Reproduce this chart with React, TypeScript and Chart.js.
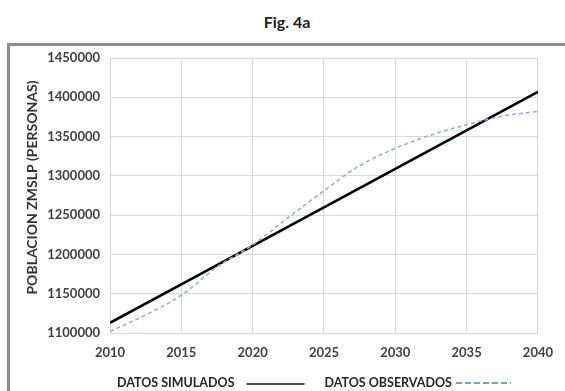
import React, { useEffect, useRef } from "react";
import { Chart, registerables } from "chart.js";

Chart.register(...registerables);

const chartTitle = "Fig. 4a";
const yAxisTitle = "POBLACION ZMSLP (PERSONAS)";
const legendLabels = ["DATOS SIMULADOS", "DATOS OBSERVADOS"];

const simulatedYears = [2010, 2015, 2020, 2025, 2030, 2035, 2040];
const simulatedValues = [1113000, 1162000, 1211000, 1260000, 1309000, 1358000, 1407000];

const observedYears = [2010, 2012.5, 2015, 2017.5, 2020, 2022.5, 2025, 2027.5, 2030, 2032.5, 2035, 2037.5, 2040];
const observedValues = [1102000, 1123000, 1148000, 1184000, 1212000, 1247000, 1281000, 1313000, 1335000, 1352000, 1365000, 1376000, 1382000];

const xMin = 2010;
const xMax = 2040;
const xStep = 5;
const yMin = 1100000;
const yMax = 1450000;
const yStep = 50000;

const FONT = "Lato, 'Open Sans', sans-serif";

const decorPlugin = {
  id: "customDecor",
  afterDraw(chart: any) {
    const { ctx, chartArea } = chart;
    ctx.save();
    // y axis title
    ctx.save();
    ctx.translate(chartArea.left - 78, (chartArea.top + chartArea.bottom) / 2 - 8);
    ctx.rotate(-Math.PI / 2);
    ctx.font = `bold 14px ${FONT}`;
    ctx.fillStyle = "#333333";
    ctx.textAlign = "center";
    ctx.textBaseline = "middle";
    ctx.fillText(yAxisTitle, 0, 0);
    ctx.restore();

    // legend
    ctx.font = `bold 12.5px ${FONT}`;
    ctx.fillStyle = "#262626";
    ctx.textBaseline = "middle";
    const y = chartArea.bottom + 50;
    let x = chartArea.left + 7;
    ctx.fillText(legendLabels[0], x, y);
    x += ctx.measureText(legendLabels[0]).width + 12;
    ctx.strokeStyle = "#111";
    ctx.lineWidth = 1.5;
    ctx.beginPath();
    ctx.moveTo(x, y + 1);
    ctx.lineTo(x + 58, y + 1);
    ctx.stroke();
    x += 58 + 20;
    ctx.fillText(legendLabels[1], x, y);
    x += ctx.measureText(legendLabels[1]).width + 4;
    ctx.strokeStyle = "#6fa3dc";
    ctx.lineWidth = 2;
    ctx.setLineDash([6, 3]);
    ctx.beginPath();
    ctx.moveTo(x, y);
    ctx.lineTo(x + 55, y);
    ctx.stroke();
    ctx.restore();
  },
};

export default function App() {
  const canvasRef = useRef<HTMLCanvasElement | null>(null);

  useEffect(() => {
    if (!canvasRef.current) return;
    const chart = new Chart(canvasRef.current, {
      type: "line",
      data: {
        datasets: [
          {
            label: legendLabels[1],
            data: observedYears.map((x, i) => ({ x, y: observedValues[i] })),
            borderColor: "#8fb3d9",
            borderWidth: 1.6,
            borderDash: [4, 3],
            pointRadius: 0,
            cubicInterpolationMode: "monotone",
            fill: false,
          },
          {
            label: legendLabels[0],
            data: simulatedYears.map((x, i) => ({ x, y: simulatedValues[i] })),
            borderColor: "#000000",
            borderWidth: 2.6,
            pointRadius: 0,
            tension: 0,
            fill: false,
          },
        ],
      },
      options: {
        responsive: false,
        animation: false,
        layout: { padding: { left: 20, top: 58, right: 24, bottom: 28 } },
        plugins: {
          legend: { display: false },
          title: { display: false },
          tooltip: { enabled: false },
        },
        scales: {
          x: {
            type: "linear",
            min: xMin,
            max: xMax,
            afterFit: (s: any) => {
              s.height = 30;
            },
            ticks: {
              stepSize: xStep,
              padding: 12,
              color: "#404040",
              font: { family: FONT, size: 13, weight: "bold" },
              callback: (v: any) => String(v),
            },
            grid: { color: "#d9d9d9", lineWidth: 1, drawTicks: false },
            border: { color: "#d9d9d9" },
          },
          y: {
            min: yMin,
            max: yMax,
            afterFit: (s: any) => {
              s.width = 90;
            },
            ticks: {
              stepSize: yStep,
              padding: 10,
              color: "#404040",
              font: { family: FONT, size: 13, weight: "bold" },
              callback: (v: any) => String(v),
            },
            grid: { color: "#d9d9d9", lineWidth: 1, drawTicks: false },
            border: { color: "#d9d9d9" },
          },
        },
      },
      plugins: [decorPlugin],
    });
    return () => chart.destroy();
  }, []);

  return (
    <div
      style={{
        position: "absolute",
        left: 0,
        top: 0,
        width: 565,
        height: 391,
        background: "#ffffff",
        overflow: "hidden",
      }}
    >
      <div
        style={{
          position: "absolute",
          left: 0,
          top: 12,
          width: 574,
          textAlign: "center",
          fontFamily: FONT,
          fontWeight: "bold",
          fontSize: 16,
          color: "#222",
        }}
      >
        {chartTitle}
      </div>
      <div
        style={{
          position: "absolute",
          left: 7,
          top: 43,
          width: 620,
          height: 420,
          borderLeft: "3px solid #8e8e8e",
          borderTop: "3px solid #8e8e8e",
        }}
      />
      <canvas
        ref={canvasRef}
        width={565}
        height={391}
        style={{ position: "absolute", left: 0, top: 0, display: "block" }}
      />
    </div>
  );
}
